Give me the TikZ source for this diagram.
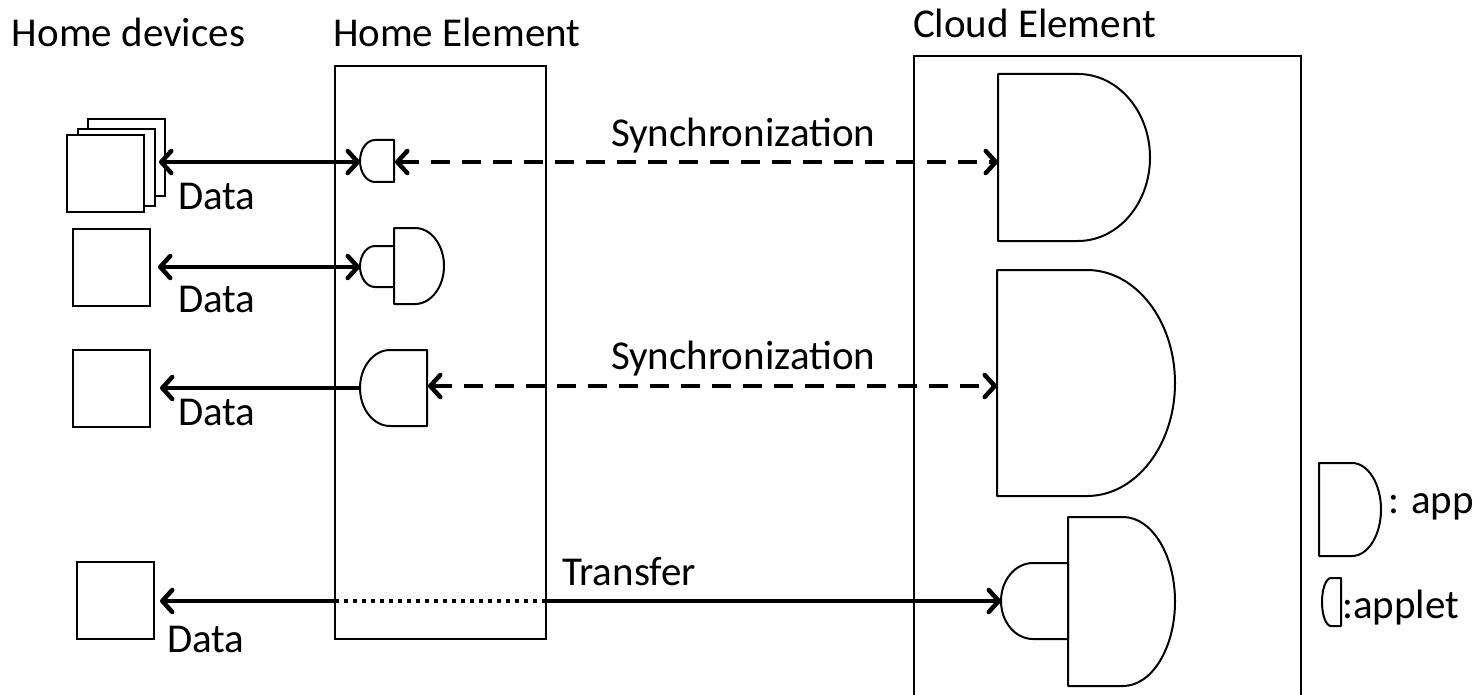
\documentclass[tikz,border=0pt]{standalone}
\usepackage{fontspec}
\setmainfont{Carlito}
\usetikzlibrary{arrows.meta}
\begin{document}
\begin{tikzpicture}[x=1pt,y=-1pt,
  font=\fontsize{41}{49}\selectfont,
  frame/.style={draw, line width=2pt, inner sep=0pt, outer sep=0pt},
  dev/.style={draw, line width=2pt, fill=white, minimum width=77pt, minimum height=77pt, inner sep=0pt, outer sep=0pt},
  shp/.style={draw, line width=2pt, fill=white, line join=round},
  conn/.style={line width=4.5pt},
  dashconn/.style={line width=4.5pt, dash pattern=on 19pt off 12pt},
  dotconn/.style={line width=4pt, dash pattern=on 4pt off 5pt},
  barb/.tip={Straight Barb[length=10pt,width=22pt,line cap=round,line join=round]},
  lbl/.style={anchor=base west, inner sep=0pt, outer sep=0pt}]
\useasboundingbox (0,0) rectangle (1480,695);
\clip (0,0) rectangle (1480,695);

% titles
\node[lbl] (tdev) at (12,47) {Home devices};
\node[lbl] (thome) at (333,47) {Home Element};
\node[lbl] (tcloud) at (913,38) {Cloud Element};

% element boxes
\node[frame, minimum width=211pt, minimum height=573pt] (home) at (440.5,352.5) {};
\node[frame, minimum width=387pt, minimum height=680pt] (cloud) at (1107.5,396) {};

% home devices
\node[dev] (d1c) at (126.5,157.5) {};
\node[dev] (d1b) at (116,167.5) {};
\node[dev] (d1a) at (105.5,174) {};
\node[dev] (d2) at (111.5,267.5) {};
\node[dev] (d3) at (111.5,388) {};
\node[dev] (d4) at (115,600) {};

% connection points
\coordinate (p1) at (159,162);
\coordinate (ha1W) at (360,162);
\coordinate (ha1E) at (395,162);
\coordinate (ca1W) at (998,162);
\coordinate (p2) at (158,267);
\coordinate (ha2W) at (360,267);
\coordinate (p3) at (160,388);
\coordinate (ha3W) at (360,388);
\coordinate (ha3E) at (428,386);
\coordinate (ca2W) at (997,386);
\coordinate (p4) at (160,601);
\coordinate (caW) at (1001,601);
\coordinate (hL) at (home.west |- caW);
\coordinate (hR) at (home.east |- caW);

% connectors
\draw[conn,{barb}-{barb}] (p1) -- (ha1W);
\draw[dashconn,{barb}-{barb}] (ha1E) -- (ca1W);
\draw[conn,{barb}-{barb}] (p2) -- (ha2W);
\draw[conn,-{barb}] (ha3W) -- (p3);
\draw[dashconn,{barb}-{barb}] (ha3E) -- (ca2W);
\draw[conn,-{barb}] (hL) -- (p4);
\draw[dotconn] (hL) -- (hR);
\draw[conn,-{barb}] (hR) -- (caW);

% home applets / apps
\draw[shp] (394,140) -- (375,140) arc[start angle=90,end angle=270,x radius=15pt,y radius=21pt] -- (394,182) -- cycle;
\draw[shp] (394,246) -- (375,246) arc[start angle=90,end angle=270,x radius=15pt,y radius=20.5pt] -- (394,287) -- cycle;
\draw[shp] (394,228) -- (415,228) arc[start angle=90,end angle=-90,x radius=29pt,y radius=38pt] -- (394,304) -- cycle;
\draw[shp] (427,350) -- (390,350) arc[start angle=90,end angle=270,x radius=30pt,y radius=38pt] -- (427,426) -- cycle;

% cloud apps
\draw[shp] (998,74) -- (1078,74) arc[start angle=90,end angle=-90,x radius=72pt,y radius=83.5pt] -- (998,241) -- cycle;
\draw[shp] (997,270) -- (1087,270) arc[start angle=90,end angle=-90,x radius=88pt,y radius=113pt] -- (997,496) -- cycle;
\draw[shp] (1068,517) -- (1123,517) arc[start angle=90,end angle=-90,x radius=52pt,y radius=84.5pt] -- (1068,686) -- cycle;
\draw[shp] (1068,563) -- (1033,563) arc[start angle=90,end angle=270,x radius=32pt,y radius=38pt] -- (1068,639) -- cycle;

% legend
\draw[shp] (1319,463) -- (1352,463) arc[start angle=90,end angle=-90,x radius=29pt,y radius=46.5pt] -- (1319,556) -- cycle;
\draw[shp] (1341,578) -- (1331,578) arc[start angle=90,end angle=270,x radius=9pt,y radius=24pt] -- (1341,626) -- cycle;
\node[lbl] (lapp) at (1388,513) {: app};
\node[lbl] (lapplet) at (1342,618) {:applet};

% labels
\node[lbl] (s1) at (611,147) {Synchronization};
\node[lbl] (s2) at (611,369) {Synchronization};
\node[lbl] (tr) at (562,585) {Transfer};
\node[lbl] (l1) at (178,210) {Data};
\node[lbl] (l2) at (178,312) {Data};
\node[lbl] (l3) at (178,425) {Data};
\node[lbl] (l4) at (167,652) {Data};
\end{tikzpicture}
\end{document}
